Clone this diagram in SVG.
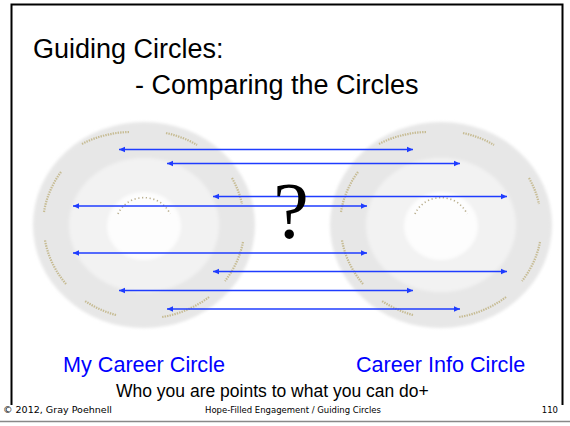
<svg xmlns="http://www.w3.org/2000/svg" width="570" height="426" viewBox="0 0 570 426">
<style>
.title{font-family:"Liberation Sans",Arial,sans-serif;font-size:27px;fill:#000}
.cap{font-family:"Liberation Sans",Arial,sans-serif;font-size:21.6px;fill:#0000ff}
.sub{font-family:"Liberation Sans",Arial,sans-serif;font-size:17.5px;fill:#000}
.foot{font-family:"DejaVu Sans",Verdana,sans-serif;font-size:8.5px;fill:#000}
.q{font-family:"Liberation Serif","Times New Roman",serif;font-size:80px;fill:#000}
.arr{stroke:#1f3cff;stroke-width:1.3;fill:none;marker-start:url(#hs);marker-end:url(#he)}
.outer{fill:#e7e7e7}
.mid{fill:#f2f2f2}
.inner{fill:#fdfdfd}
.lbl{fill:none;stroke:#b8a86e;stroke-width:2.2;stroke-dasharray:1.4 1.1;opacity:0.7}
.clbl{fill:none;stroke:#a89a70;stroke-width:1.6;stroke-dasharray:1.2 2.6;opacity:0.8}
</style>
<defs>
<filter id="soft" x="-10%" y="-10%" width="120%" height="120%"><feGaussianBlur stdDeviation="1.6"/></filter>
<marker id="he" markerUnits="userSpaceOnUse" markerWidth="8" markerHeight="8" refX="6" refY="4" orient="auto"><path d="M0,1.2 L6,4 L0,6.8 Z" fill="#1f3cff"/></marker>
<marker id="hs" markerUnits="userSpaceOnUse" markerWidth="8" markerHeight="8" refX="0" refY="4" orient="auto"><path d="M6,1.2 L0,4 L6,6.8 Z" fill="#1f3cff"/></marker>
<g id="disc">
<g filter="url(#soft)">
<ellipse class="outer" cx="0" cy="0" rx="111" ry="103"/>
<ellipse class="mid" cx="0" cy="0" rx="75" ry="67"/>
<ellipse class="inner" cx="0" cy="1" rx="37" ry="34"/>
</g>
<path class="lbl" d="M-62,-81 A101,94 0 0 1 -14,-93"/>
<path class="lbl" d="M22,-92 A101,94 0 0 1 53,-80"/>
<path class="lbl" d="M88,-47 A101,94 0 0 1 98,-21"/>
<path class="lbl" d="M99,17 A101,94 0 0 1 81,56"/>
<path class="lbl" d="M65,72 A101,94 0 0 1 18,92"/>
<path class="lbl" d="M-28,90 A101,94 0 0 1 -59,76"/>
<path class="lbl" d="M-78,59 A101,94 0 0 1 -99,15"/>
<path class="lbl" d="M-100,-13 A101,94 0 0 1 -83,-53"/>
<path class="clbl" d="M-26,-11 A28,26 0 0 1 26,-11"/>
</g>
</defs>
<rect x="0" y="0" width="570" height="426" fill="#fff"/>
<path d="M11.5,405 V4.5 H562.5 V405" fill="none" stroke="#000" stroke-width="2"/>
<line x1="0" y1="421.5" x2="570" y2="421.5" stroke="#888" stroke-width="1.5"/>
<g id="title">
<text class="title" x="33" y="58">Guiding Circles:</text>
<text class="title" x="135" y="94">- Comparing the Circles</text>
</g>
<g id="my-career-circle">
<use href="#disc" x="144" y="225"/>
<text class="cap" x="63" y="372">My Career Circle</text>
</g>
<g id="career-info-circle">
<use href="#disc" x="441" y="225"/>
<text class="cap" x="356" y="372">Career Info Circle</text>
</g>
<g id="connectors">
<line class="arr" x1="119" y1="149.5" x2="413" y2="149.5"/>
<line class="arr" x1="167" y1="163.5" x2="460" y2="163.5"/>
<line class="arr" x1="213" y1="196.5" x2="507" y2="196.5"/>
<line class="arr" x1="73" y1="206" x2="367" y2="206"/>
<line class="arr" x1="73" y1="253" x2="367" y2="253"/>
<line class="arr" x1="213" y1="271.5" x2="507" y2="271.5"/>
<line class="arr" x1="119" y1="290.5" x2="413" y2="290.5"/>
<line class="arr" x1="167" y1="309" x2="460" y2="309"/>
</g>
<g id="question">
<text class="q" x="291" y="238" text-anchor="middle">?</text>
</g>
<g id="caption">
<text class="sub" x="116" y="397">Who you are points to what you can do+</text>
</g>
<g id="footer">
<text class="foot" x="3" y="413" textLength="109" lengthAdjust="spacingAndGlyphs">© 2012, Gray Poehnell</text>
<text class="foot" x="205" y="413" textLength="176" lengthAdjust="spacingAndGlyphs">Hope-Filled Engagement / Guiding Circles</text>
<text class="foot" x="558" y="413" text-anchor="end">110</text>
</g>
</svg>
